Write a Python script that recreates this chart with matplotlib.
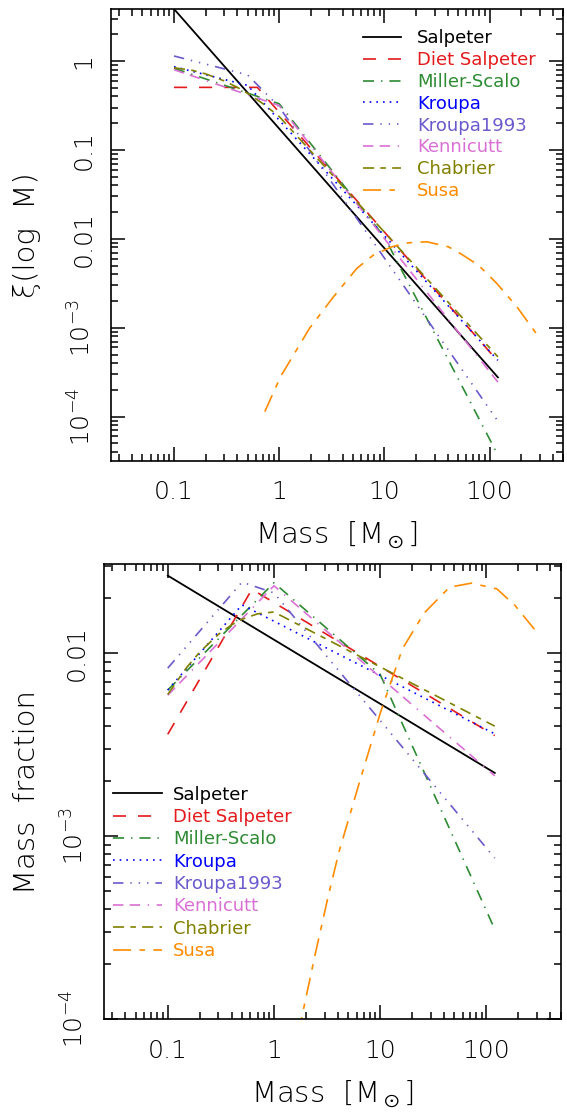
import matplotlib
matplotlib.use('Agg')
import matplotlib.pyplot as plt
from matplotlib.ticker import LogLocator, FixedLocator, FixedFormatter, NullFormatter

# ---- top panel: xi(log M) ----
salpeter_m = [0.1, 120]
salpeter_xi = [3.85, 2.77e-4]
diet_m = [0.1, 0.62, 120]
diet_xi = [0.506, 0.506, 4.2e-4]
ms_m = [0.1, 1.0, 10, 120]
ms_xi = [0.83, 0.331, 0.0105, 3.7e-5]
kroupa_m = [0.1, 0.5, 120]
kroupa_xi = [0.865, 0.533, 4.3e-4]
k93_m = [0.1, 0.5, 1.0, 120]
k93_xi = [1.14, 0.70, 0.305, 8.9e-5]
kenn_m = [0.1, 1.0, 120]
kenn_xi = [0.80, 0.316, 2.45e-4]
chab_m = [0.1, 0.15, 0.2, 0.3, 0.4, 0.5, 0.7, 1.0, 120]
chab_xi = [0.841, 0.785, 0.718, 0.598, 0.506, 0.434, 0.332, 0.238, 4.71e-4]
susa_m = [0.73, 1.03, 1.94, 3.28, 5.48, 7.87, 11.8, 16.9, 25.4, 40.6, 52.5, 78.3, 117, 182, 300]
susa_xi = [1.14e-4, 2.82e-4, 9.84e-4, 2.23e-3, 4.66e-3, 6.58e-3, 8.15e-3, 9.03e-3,
           9.27e-3, 8.15e-3, 6.87e-3, 5.07e-3, 3.16e-3, 1.72e-3, 7.6e-4]

# ---- bottom panel: mass fraction ----
salpeter_f = [0.0266, 2.22e-3]
diet_f = [3.61e-3, 0.0224, 3.55e-3]
ms_f = [6.3e-3, 0.0243, 7.67e-3, 3.1e-4]
kroupa_f = [6.3e-3, 0.0184, 3.63e-3]
k93_f = [8.3e-3, 0.0245, 0.0214, 7.6e-4]
kenn_f = [5.9e-3, 0.0234, 2.14e-3]
chab_f = [5.96e-3, 8.34e-3, 0.01016, 0.0127, 0.01432, 0.01535, 0.01644, 0.01683, 4.0e-3]
susa_fm = [0.731, 1.035, 1.849, 2.438, 3.214, 4.074, 6.266, 10.07, 16.18, 25.94, 45.08, 72.44, 125.6, 186.6, 299.2]
susa_f = [5.25e-6, 1.84e-5, 1.057e-4, 2.25e-4, 4.60e-4, 8.13e-4, 1.905e-3, 4.75e-3,
          0.01057, 0.0166, 0.0230, 0.0242, 0.0225, 0.01824, 0.01303]

names = ["Salpeter", "Diet Salpeter", "Miller-Scalo", "Kroupa", "Kroupa1993",
         "Kennicutt", "Chabrier", "Susa"]
colors = ["black", "#e41a1c", "#2e8b34", "#0000ff", "#6a5acd", "#da70d6", "#808000", "#ff8c00"]
styles = ["-", (0, (9.4, 8.6)), (0, (8, 5, 1, 5)), (0, (1.2, 3.6)),
          (0, (7.5, 5, 1, 5, 1, 5, 1, 5)), (0, (7.5, 4.5, 7.5, 5.5, 1, 5.5)),
          (0, (8, 4.5, 4, 4.5)), (0, (13, 6, 4, 6))]

top_x = [salpeter_m, diet_m, ms_m, kroupa_m, k93_m, kenn_m, chab_m, susa_m]
top_y = [salpeter_xi, diet_xi, ms_xi, kroupa_xi, k93_xi, kenn_xi, chab_xi, susa_xi]
bot_x = [salpeter_m, diet_m, ms_m, kroupa_m, k93_m, kenn_m, chab_m, susa_fm]
bot_y = [salpeter_f, diet_f, ms_f, kroupa_f, k93_f, kenn_f, chab_f, susa_f]

plt.rcParams['font.family'] = ['DejaVu Sans']
plt.rcParams['font.weight'] = 'light'
plt.rcParams['axes.labelweight'] = 'light'
plt.rcParams['lines.scale_dashes'] = False
plt.rcParams['mathtext.fontset'] = 'dejavusans'

fig = plt.figure(figsize=(5.67, 11.13), dpi=100)
ax1 = fig.add_axes([0.1952, 0.5861, 0.7979, 0.4058])
ax2 = fig.add_axes([0.1831, 0.0842, 0.8056, 0.4091])


def style_axes(ax, ylim, yticks, ylabels, ylabel):
    ax.set_xscale('log')
    ax.set_yscale('log')
    ax.set_xlim(0.025, 500)
    ax.set_ylim(*ylim)
    ax.xaxis.set_major_locator(FixedLocator([0.1, 1, 10, 100]))
    ax.xaxis.set_major_formatter(FixedFormatter(['0.1', '1', '10', '100']))
    ax.xaxis.set_minor_locator(LogLocator(base=10, subs=range(2, 10), numticks=20))
    ax.xaxis.set_minor_formatter(NullFormatter())
    ax.yaxis.set_major_locator(FixedLocator(yticks))
    ax.yaxis.set_major_formatter(FixedFormatter(ylabels))
    ax.yaxis.set_minor_locator(LogLocator(base=10, subs=range(2, 10), numticks=20))
    ax.yaxis.set_minor_formatter(NullFormatter())
    ax.tick_params(which='both', direction='in', top=True, right=True, width=1.1)
    ax.tick_params(which='major', length=10)
    ax.tick_params(which='minor', length=4.8)
    ax.tick_params(axis='x', which='major', labelsize=18, pad=14)
    ax.tick_params(axis='y', which='major', labelsize=18, pad=11, labelrotation=90)
    for lab in ax.get_yticklabels():
        lab.set_verticalalignment('center')
    for sp in ax.spines.values():
        sp.set_linewidth(1.2)
    ax.set_xlabel('Mass  [M$_\\odot$]', fontsize=21, fontweight='light')
    ax.xaxis.set_label_coords(0.5, -0.13)
    ax.set_ylabel(ylabel, fontsize=21, fontweight='light')


style_axes(ax1, (3.2e-5, 3.85), [1e-4, 1e-3, 0.01, 0.1, 1],
           ['10$^{-4}$', '10$^{-3}$', '0.01', '0.1', '1'], '\u03be(log  M)')
ax1.yaxis.set_label_coords(-0.153, 0.5)
style_axes(ax2, (1e-4, 0.0308), [1e-4, 1e-3, 0.01],
           ['10$^{-4}$', '10$^{-3}$', '0.01'], 'Mass  fraction')
ax2.yaxis.set_label_coords(-0.137, 0.5)

for i in range(len(names)):
    lw = 1.3 if i == 0 else 1.2
    ax1.plot(top_x[i], top_y[i], color=colors[i], linestyle=styles[i], lw=lw, label=names[i])
    ax2.plot(bot_x[i], bot_y[i], color=colors[i], linestyle=styles[i], lw=lw, label=names[i])

leg_font = {'size': 13, 'weight': 'normal'}
ax1.legend(loc='upper left', bbox_to_anchor=(0.558, 0.955), frameon=False, prop=leg_font,
           handlelength=2.12, handletextpad=0.86, labelspacing=0.21, borderpad=0,
           borderaxespad=0, labelcolor='linecolor')
ax2.legend(loc='upper left', bbox_to_anchor=(0.021, 0.513), frameon=False, prop=leg_font,
           handlelength=2.68, handletextpad=0.64, labelspacing=0.24, borderpad=0,
           borderaxespad=0, labelcolor='linecolor')

fig.savefig('out.png', dpi=100)
